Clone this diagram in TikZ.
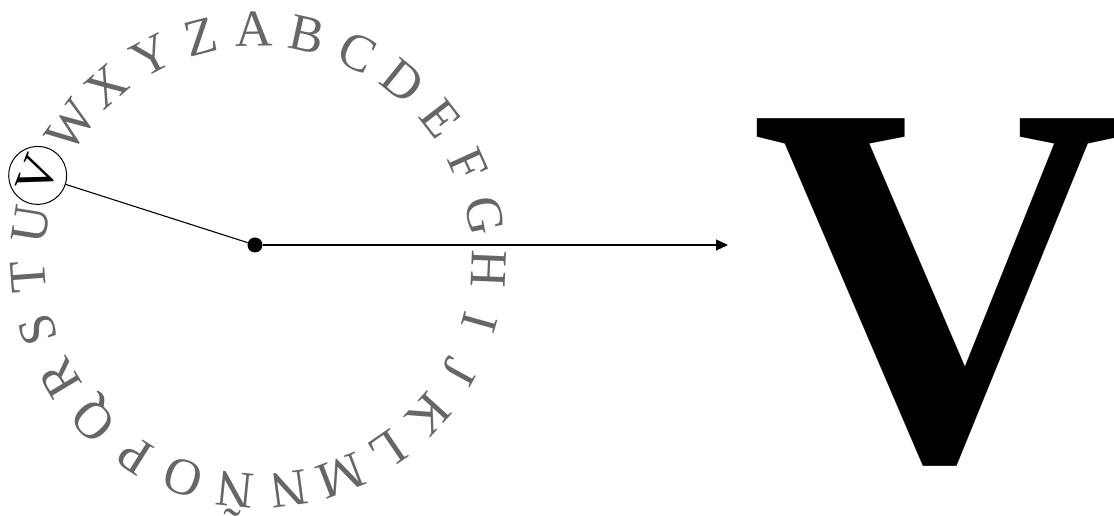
\documentclass[tikz,border=0pt]{standalone}
\usepackage{fontspec}
\setmainfont{Liberation Serif}
\usepackage{tikz}
\usepackage{xcolor}
\usetikzlibrary{arrows.meta,calc}

\begin{document}
\begin{tikzpicture}[
    x=1pt, y=1pt,
    letter/.style={
        inner sep=0pt,
        text=black!60,
        text height=33pt,
        text depth=0pt,
        font=\fontsize{52}{52}\selectfont
    },
    picked/.style={
        circle,
        draw=black,
        line width=1pt,
        inner sep=0pt,
        minimum size=58pt,
        text=black,
        text height=33pt,
        text depth=0pt,
        font=\fontsize{52}{52}\selectfont
    },
    hubdot/.style={
        circle,
        fill=black,
        inner sep=0pt,
        minimum size=15pt
    },
    result/.style={
        inner sep=0pt,
        anchor=base,
        font=\fontsize{519}{519}\selectfont\bfseries
    },
    spoke/.style={line width=1.1pt},
    pointer/.style={line width=1.1pt,-{Triangle[length=12pt,width=11pt]}}
]
\useasboundingbox (0,0) rectangle (1114,516);
\coordinate (ring) at (258,256);
% the alphabet ring
\node (la) [letter, rotate=1] at ($(ring)+(91:230)$) {A};
\node (lb) [letter, rotate=-12.33] at ($(ring)+(77.67:230)$) {B};
\node (lc) [letter, rotate=-25.67] at ($(ring)+(64.33:230)$) {C};
\node (ld) [letter, rotate=-39] at ($(ring)+(51:230)$) {D};
\node (le) [letter, rotate=-52.33] at ($(ring)+(37.67:230)$) {E};
\node (lf) [letter, rotate=-65.67] at ($(ring)+(24.33:230)$) {F};
\node (lg) [letter, rotate=-79] at ($(ring)+(11:230)$) {G};
\node (lh) [letter, rotate=-92.33] at ($(ring)+(-2.33:230)$) {H};
\node (li) [letter, rotate=-105.67] at ($(ring)+(-15.67:230)$) {I};
\node (lj) [letter, rotate=-119] at ($(ring)+(-29:230)$) {J};
\node (lk) [letter, rotate=-132.33] at ($(ring)+(-42.33:230)$) {K};
\node (ll) [letter, rotate=-145.67] at ($(ring)+(-55.67:230)$) {L};
\node (lm) [letter, rotate=-159] at ($(ring)+(-69:230)$) {M};
\node (ln) [letter, rotate=-172.33] at ($(ring)+(-82.33:230)$) {N};
\node (lenye) [letter, rotate=-185.67] at ($(ring)+(-95.67:230)$) {Ñ};
\node (lo) [letter, rotate=-199] at ($(ring)+(-109:230)$) {O};
\node (lp) [letter, rotate=-212.33] at ($(ring)+(-122.33:230)$) {P};
\node (lq) [letter, rotate=-225.67] at ($(ring)+(-135.67:230)$) {Q};
\node (lr) [letter, rotate=-239] at ($(ring)+(-149:230)$) {R};
\node (ls) [letter, rotate=-252.33] at ($(ring)+(-162.33:230)$) {S};
\node (lt) [letter, rotate=-265.67] at ($(ring)+(-175.67:230)$) {T};
\node (lu) [letter, rotate=81] at ($(ring)+(171:230)$) {U};
\node (lv) [picked, rotate=69] at ($(ring)+(159:236)$) {V};
\node (lw) [letter, rotate=54.33] at ($(ring)+(144.33:230)$) {W};
\node (lx) [letter, rotate=41] at ($(ring)+(131:230)$) {X};
\node (ly) [letter, rotate=27.67] at ($(ring)+(117.67:230)$) {Y};
\node (lz) [letter, rotate=14.33] at ($(ring)+(104.33:230)$) {Z};
% pointer and result
\node (hub) [hubdot] at (255,271) {};
\coordinate (tip) at (728,271);
\node (big) [result] at (939,57) {V};
\draw [spoke] (lv) -- (hub);
\draw [pointer] (hub) -- (tip);
\end{tikzpicture}
\end{document}
